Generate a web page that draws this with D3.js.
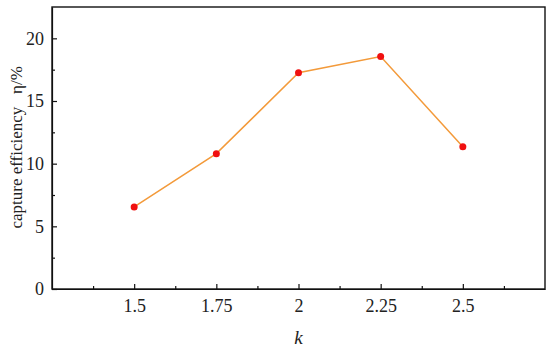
<!DOCTYPE html>
<html>
<head>
<meta charset="utf-8">
<script src="https://cdn.jsdelivr.net/npm/d3@7"></script>
<style>
  body { margin: 0; background: #fff; }
  text { font-family: "Liberation Serif", "Times New Roman", serif; fill: #222; }
</style>
</head>
<body>
<div id="chart"></div>
<script>
// data
const kValues = [1.5, 1.75, 2, 2.25, 2.5];
const efficiency = [6.55, 10.8, 17.25, 18.55, 11.35];
const xTicks = [1.5, 1.75, 2, 2.25, 2.5];
const xTickLabels = ["1.5", "1.75", "2", "2.25", "2.5"];
const yTicks = [0, 5, 10, 15, 20];

const width = 550, height = 349;
const margin = { top: 7, right: 5, bottom: 60, left: 52 };

const svg = d3.select("#chart").append("svg")
  .attr("width", width)
  .attr("height", height);

const x = d3.scaleLinear()
  .domain([1.25, 2.75])
  .range([margin.left, width - margin.right]);

const y = d3.scaleLinear()
  .domain([0, 22.5])
  .range([height - margin.bottom, margin.top]);

// minor ticks
const xMinor = d3.range(1.375, 2.75, 0.25);
const yMinor = d3.range(2.5, 22.5, 5);

const xAxis = svg.append("g")
  .attr("transform", "translate(0," + (height - margin.bottom) + ")")
  .call(d3.axisBottom(x).tickValues(xTicks)
    .tickFormat((d, i) => xTickLabels[i])
    .tickSizeInner(-5).tickSizeOuter(0).tickPadding(10));

xAxis.selectAll(".tick text").attr("font-size", 18);

svg.append("g")
  .attr("transform", "translate(0," + (height - margin.bottom) + ")")
  .call(d3.axisBottom(x).tickValues(xMinor).tickFormat("")
    .tickSizeInner(-3).tickSizeOuter(0))
  .select(".domain").remove();

const yAxis = svg.append("g")
  .attr("transform", "translate(" + margin.left + ",0)")
  .call(d3.axisLeft(y).tickValues(yTicks)
    .tickSizeInner(-5).tickSizeOuter(0).tickPadding(8));

yAxis.selectAll(".tick text").attr("font-size", 18);

svg.append("g")
  .attr("transform", "translate(" + margin.left + ",0)")
  .call(d3.axisLeft(y).tickValues(yMinor).tickFormat("")
    .tickSizeInner(-3).tickSizeOuter(0))
  .select(".domain").remove();

svg.selectAll(".domain, .tick line").attr("stroke", "#111").attr("stroke-width", 1.2);

// frame
svg.append("rect")
  .attr("x", margin.left)
  .attr("y", margin.top)
  .attr("width", width - margin.left - margin.right)
  .attr("height", height - margin.top - margin.bottom)
  .attr("fill", "none")
  .attr("stroke", "#111")
  .attr("stroke-width", 1.4);

const pts = kValues.map((k, i) => [k, efficiency[i]]);

svg.append("path")
  .datum(pts)
  .attr("fill", "none")
  .attr("stroke", "#f39a3a")
  .attr("stroke-width", 1.5)
  .attr("d", d3.line().x(d => x(d[0])).y(d => y(d[1])));

svg.selectAll("circle.pt")
  .data(pts)
  .enter().append("circle")
  .attr("class", "pt")
  .attr("cx", d => x(d[0]))
  .attr("cy", d => y(d[1]))
  .attr("r", 3.5)
  .attr("fill", "#f01010");

// axis titles
svg.append("text")
  .attr("x", x(2))
  .attr("y", 344)
  .attr("text-anchor", "middle")
  .attr("font-size", 19)
  .attr("font-style", "italic")
  .text("k");

svg.append("text")
  .attr("transform", "translate(22," + y(11.3) + ") rotate(-90)")
  .attr("text-anchor", "middle")
  .attr("font-size", 17)
  .attr("xml:space", "preserve")
  .text("capture efficiency   η/%");
</script>
</body>
</html>
